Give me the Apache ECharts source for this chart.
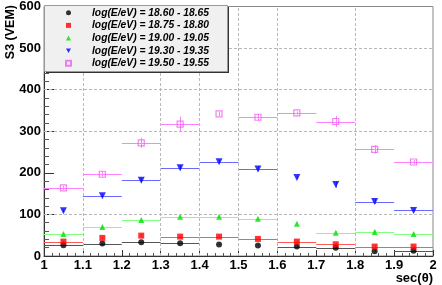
<!DOCTYPE html>
<html><head><meta charset="utf-8">
<script src="https://cdn.jsdelivr.net/npm/echarts@6/dist/echarts.min.js"></script>
<style>html,body{margin:0;padding:0;background:#fff}#c{width:442px;height:285px}</style>
</head><body><div id="c"></div>
<script>
// ---- data ----
const secTheta = [1.05, 1.15, 1.25, 1.35, 1.45, 1.55, 1.65, 1.75, 1.85, 1.95];
const names = ['log(E/eV) = 18.60 - 18.65', 'log(E/eV) = 18.75 - 18.80', 'log(E/eV) = 19.00 - 19.05',
               'log(E/eV) = 19.30 - 19.35', 'log(E/eV) = 19.50 - 19.55'];

const s3_1860 = [25.8, 29.9, 33.0, 30.6, 27.5, 25.1, 22.7, 19.6, 11.5, 12.4];
const s3_1875 = [34.7, 43.5, 49.0, 46.6, 46.6, 41.0, 34.7, 28.2, 22.7, 22.7];
const s3_1900 = [53.0, 70.0, 86.6, 94.5, 94.5, 89.7, 77.8, 56.2, 57.9, 53.0];
const s3_1930 = [108.9, 144.7, 182.0, 212.4, 226.8, 209.3, 188.5, 171.8, 131.0, 109.6];
const s3_1950 = [163.9, 196.6, 272.2, 317.0, 341.6, 333.7, 344.0, 323.4, 256.5, 226.0];

const yerr_1860 = [1, 1, 1, 1, 1, 1, 1, 2, 2, 2];
const yerr_1875 = [2, 2, 3, 2, 2, 2, 2, 3, 3, 2];
const yerr_1900 = [2, 3, 3, 3, 3, 3, 3, 4, 5, 3];
const yerr_1930 = [3, 4, 5, 6, 4, 6, 4, 8, 6, 3];
const yerr_1950 = [5, 6, 12, 18, 5, 8, 4, 13, 10, 5];

const xerr_1860 = [0.05, 0.05, 0.05, 0.05, 0, 0, 0.05, 0.05, 0, 0.05];
const xerr_1875 = [0.05, 0, 0, 0.05, 0.05, 0.05, 0.05, 0.05, 0.05, 0.05];
const xerr_1900 = [0.05, 0.05, 0.05, 0.05, 0.05, 0.05, 0, 0.05, 0.05, 0.05];
const xerr_1930 = [0, 0.05, 0.05, 0.05, 0.05, 0.05, 0, 0, 0.05, 0.05];
const xerr_1950 = [0.05, 0.05, 0.05, 0.05, 0, 0.05, 0.05, 0.05, 0.05, 0.05];

const gridX = [1.1, 1.3, 1.4, 1.5, 1.6, 1.8];
const gridY = [100, 300, 400, 500];

// ---- styles ----
const FONT = 'Liberation Sans, Arial, Helvetica, sans-serif';
const groups = [
  {name: names[0], y: s3_1860, ye: yerr_1860, xe: xerr_1860, symbol: 'circle', size: 6, rot: 0,
   item: {color: '#000'}, line: '#555', icon: 'circle'},
  {name: names[1], y: s3_1875, ye: yerr_1875, xe: xerr_1875, symbol: 'rect', size: 6, rot: 0,
   item: {color: '#ff0000'}, line: '#ff5a5a', icon: 'rect'},
  {name: names[2], y: s3_1900, ye: yerr_1900, xe: xerr_1900, symbol: 'triangle', size: 6, rot: 0,
   item: {color: '#00e000'}, line: '#80ff80', icon: 'triangle'},
  {name: names[3], y: s3_1930, ye: yerr_1930, xe: xerr_1930, symbol: 'triangle', size: 7, rot: 180,
   item: {color: '#0000ff'}, line: '#6a6aff', icon: 'path://M0,0L10,0L5,9Z'},
  {name: names[4], y: s3_1950, ye: yerr_1950, xe: xerr_1950, symbol: 'rect', size: 6, rot: 0,
   item: {color: 'rgba(0,0,0,0)', borderColor: '#f060f0', borderWidth: 1.2}, line: '#ff80ff', icon: 'rect'}
];

function makeRender(color) {
  return function (params, api) {
    const x = api.value(0), y = api.value(1), xe = api.value(2), ye = api.value(3);
    const children = [];
    if (xe > 0) {
      const a = api.coord([x - xe, y]), b = api.coord([x + xe, y]);
      children.push({type: 'line', shape: {x1: a[0], y1: Math.round(a[1]) + 0.5, x2: b[0], y2: Math.round(b[1]) + 0.5},
        style: {stroke: color, lineWidth: 1}});
    }
    if (ye > 0) {
      const a = api.coord([x, y - ye]), b = api.coord([x, y + ye]);
      const cx = Math.round(a[0]) + 0.5;
      children.push({type: 'line', shape: {x1: cx, y1: a[1], x2: cx, y2: b[1]},
        style: {stroke: color, lineWidth: 1}});
    }
    return {type: 'group', children: children};
  };
}

const series = [];
series.push({
  type: 'scatter', name: '_grid', data: [[1, 0]], symbolSize: 0, silent: true, z: 1,
  markLine: {
    silent: true, symbol: 'none', animation: false, label: {show: false},
    lineStyle: {color: '#b8b8b8', type: [3, 2], width: 1},
    data: gridX.map(v => ({xAxis: v})).concat(gridY.map(v => ({yAxis: v})))
  }
});
groups.forEach(g => {
  series.push({
    type: 'custom', name: g.name + ' err', renderItem: makeRender(g.line), z: 2,
    data: secTheta.map((x, i) => [x, g.y[i], g.xe[i], g.ye[i]]),
    encode: {x: 0, y: 1}, silent: true
  });
  series.push({
    type: 'scatter', name: g.name, z: 3,
    data: secTheta.map((x, i) => [x, g.y[i]]),
    symbol: g.symbol, symbolSize: g.size, symbolRotate: g.rot,
    itemStyle: g.item
  });
});

const chart = echarts.init(document.getElementById('c'), null, {renderer: 'canvas'});
chart.setOption({
  animation: false,
  backgroundColor: '#fff',
  grid: {left: 44, top: 5, right: 9, bottom: 29, show: true, borderColor: '#888', borderWidth: 1, backgroundColor: 'transparent'},
  xAxis: {
    type: 'value', min: 1, max: 2, interval: 0.1,
    axisLine: {show: true, onZero: false, lineStyle: {color: '#333', width: 1}},
    axisTick: {show: true, inside: true, length: 6, lineStyle: {color: '#333'}},
    minorTick: {show: true, splitNumber: 5, length: 3, lineStyle: {color: '#555'}},
    splitLine: {show: false},
    axisLabel: {color: '#000', fontFamily: FONT, fontWeight: 'bold', fontSize: 13, margin: 3}
  },
  yAxis: {
    type: 'value', min: 0, max: 600, interval: 100,
    axisLine: {show: true, onZero: false, lineStyle: {color: '#333', width: 1}},
    axisTick: {show: true, inside: true, length: 10, lineStyle: {color: '#333'}},
    minorTick: {show: true, splitNumber: 5, length: 5, lineStyle: {color: '#555'}},
    splitLine: {show: false},
    axisLabel: {color: '#000', fontFamily: FONT, fontWeight: 'bold', fontSize: 13, margin: 3}
  },
  legend: {
    orient: 'vertical', left: 65, top: 6.4, padding: 0, itemGap: 0, z: 10,
    itemWidth: 5, itemHeight: 5, selectedMode: false,
    data: groups.map(g => ({name: g.name, icon: g.icon})),
    textStyle: {color: '#000', fontFamily: FONT, fontStyle: 'italic', fontWeight: 'bold', fontSize: 10.3,
      lineHeight: 12.65, padding: [0, 0, 0, 16]}
  },
  graphic: [
    {type: 'rect', z: 8, silent: true, shape: {x: 46, y: 7, width: 183, height: 66}, style: {fill: '#333'}},
    {type: 'rect', z: 9, silent: true, shape: {x: 44.5, y: 5.5, width: 183, height: 66}, style: {fill: '#f0f0f0', stroke: '#999', lineWidth: 1}},
    {type: 'text', z: 10, silent: true, x: 11, y: 5, rotation: Math.PI / 2,
     style: {text: 'S3 (VEM)', fill: '#000', font: 'bold 12.5px ' + FONT, align: 'right', verticalAlign: 'middle'}},
    {type: 'text', z: 10, silent: true, x: 433, y: 278,
     style: {text: 'sec(θ)', fill: '#000', font: 'bold 13px ' + FONT, align: 'right', verticalAlign: 'middle'}}
  ],
  series: series
});
</script></body></html>
